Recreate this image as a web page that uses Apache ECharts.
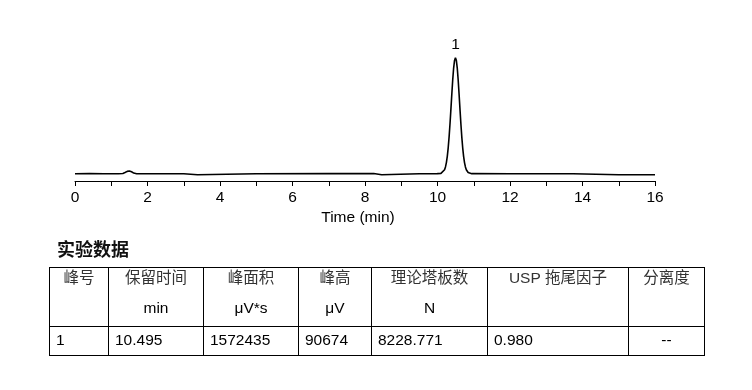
<!DOCTYPE html>
<html>
<head>
<meta charset="utf-8">
<script src="https://cdn.jsdelivr.net/npm/echarts@6/dist/echarts.min.js"></script>
<style>html,body{margin:0;padding:0;background:#fff;}#c{width:752px;height:390px;}</style>
</head>
<body>
<div id="c"></div>
<script>
// ---- data ----
var times = [0.00, 0.40, 0.80, 1.20, 1.32, 1.38, 1.44, 1.50, 1.56, 1.62, 1.70, 2.20, 3.00, 3.02, 3.38, 3.40, 5.00, 7.00, 8.24, 8.26, 8.46, 8.48, 9.50, 9.995, 10.045, 10.095, 10.145, 10.195, 10.22, 10.245, 10.27, 10.295, 10.32, 10.345, 10.37, 10.395, 10.42, 10.445, 10.47, 10.495, 10.52, 10.545, 10.57, 10.595, 10.62, 10.645, 10.67, 10.695, 10.72, 10.745, 10.77, 10.795, 10.845, 10.895, 10.945, 10.995, 12.00, 13.12, 13.14, 13.16, 13.74, 13.76, 15.00, 16.00];
var signal = [0, 100, 0, 0, 200, 900, 1800, 2100, 1500, 500, 0, 0, 0, -800, -800, 0, 0, 100, 100, -800, -800, 0, 0, 40, 50, 230, 920, 3110, 5330, 8710, 13590, 20250, 28770, 39020, 50490, 62330, 73440, 82570, 88570, 90674, 88570, 82570, 73440, 62330, 50490, 39020, 28770, 20250, 13590, 8710, 5330, 3110, 920, 230, 50, 40, 0, 0, -600, 0, 0, -800, -800, -800];
var peakTime = 10.495;
var peakHeight = 90674;
var peakLabel = '1';
var xTicks = [0, 2, 4, 6, 8, 10, 12, 14, 16];

var tableTitle = '实验数据';
var headerRow = ['峰号', '保留时间', '峰面积', '峰高', '理论塔板数', 'USP 拖尾因子', '分离度'];
var unitRow = ['', 'min', 'μV*s', 'μV', 'N', '', ''];
var dataRow = ['1', '10.495', '1572435', '90674', '8228.771', '0.980', '--'];

// ---- layout ----
var colX = [49, 108, 203, 298, 371, 487, 628, 704];
var rowY = [267, 326, 355];
var FONT = '"Liberation Sans", Arial, "Noto Sans CJK SC", sans-serif';

var pts = times.map(function (t, i) { return [t, signal[i]]; });

var g = [];
// title
g.push({ type: 'text', left: 57, top: 240, style: { text: tableTitle, font: 'bold 18px "Noto Sans CJK SC", sans-serif', fill: '#111' } });
// horizontal lines
rowY.forEach(function (y) {
  g.push({ type: 'line', shape: { x1: colX[0], y1: y + 0.5, x2: colX[colX.length - 1] + 1, y2: y + 0.5 }, style: { stroke: '#000', lineWidth: 1 } });
});
// vertical lines
colX.forEach(function (x) {
  g.push({ type: 'line', shape: { x1: x + 0.5, y1: rowY[0], x2: x + 0.5, y2: rowY[rowY.length - 1] + 1 }, style: { stroke: '#000', lineWidth: 1 } });
});
for (var i = 0; i < headerRow.length; i++) {
  var cx = (colX[i] + colX[i + 1]) / 2 + 0.5;
  g.push({ type: 'text', x: cx, y: 278.5, style: { text: headerRow[i], fontFamily: FONT, fontSize: 15.5, fill: '#333', align: 'center', verticalAlign: 'middle' } });
  if (unitRow[i]) {
    g.push({ type: 'text', x: cx, y: 308.5, style: { text: unitRow[i], fontFamily: FONT, fontSize: 15.5, fill: '#000', align: 'center', verticalAlign: 'middle' } });
  }
  var isLast = (i === dataRow.length - 1);
  g.push({ type: 'text', x: isLast ? cx : colX[i] + 7, y: 340.5, style: { text: dataRow[i], fontFamily: FONT, fontSize: 15.5, fill: '#000', align: isLast ? 'center' : 'left', verticalAlign: 'middle' } });
}

var chart = echarts.init(document.getElementById('c'));
chart.setOption({
  animation: false,
  backgroundColor: '#fff',
  grid: { left: 75, right: 97, top: 40, bottom: 209 },
  xAxis: {
    type: 'value', min: 0, max: 16, interval: 1,
    name: 'Time (min)', nameLocation: 'middle', nameGap: 29,
    nameTextStyle: { color: '#000', fontSize: 15.5, fontFamily: FONT, padding: [0, 14, 0, 0] },
    axisLine: { show: true, onZero: false, lineStyle: { color: '#000', width: 1 } },
    axisTick: { show: true, length: 5, lineStyle: { color: '#000', width: 1 } },
    splitLine: { show: false },
    axisLabel: {
      color: '#000', fontSize: 15.5, fontFamily: FONT, margin: 9,
      formatter: function (v) { return xTicks.indexOf(v) >= 0 ? String(v) : ''; }
    }
  },
  yAxis: {
    type: 'value', min: -5700, max: 104500, show: false
  },
  series: [{
    type: 'line', data: pts, showSymbol: false, symbol: 'none',
    lineStyle: { color: '#000', width: 1.6 }, smooth: false, clip: true,
    markPoint: {
      symbol: 'circle', symbolSize: 0, silent: true,
      data: [{ coord: [peakTime, peakHeight], value: peakLabel }],
      label: { show: true, formatter: peakLabel, position: 'top', distance: 5, color: '#000', fontSize: 15.5, fontFamily: FONT }
    }
  }],
  graphic: g
});
</script>
</body>
</html>
